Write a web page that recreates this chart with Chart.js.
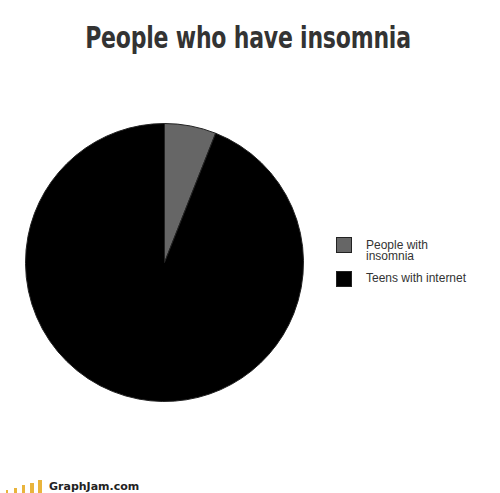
<!DOCTYPE html>
<html lang="en">
  <head>
    <meta charset="UTF-8" />
    <title>People who have insomnia</title>
    <style>
      body { margin: 0; background: #fff; width: 500px; height: 493px; position: relative; overflow: hidden; }
      .title { position: absolute; left: 0; width: 496px; top: 19px; text-align: center;
        font-family: "DejaVu Sans", sans-serif; font-weight: bold;
        font-size: 31px; color: #333; letter-spacing: -0.3px; transform: scaleX(0.71); }
      .pie { position: absolute; left: 25px; top: 123px; width: 279px; height: 279px; }
      .legend { position: absolute; left: 336px; top: 237px; font-family: "Liberation Sans", Arial, sans-serif;
        font-size: 12px; color: #333; line-height: 11px; }
      .item { position: relative; height: 34px; }
      .box { position: absolute; left: 0; top: 0; width: 14px; height: 14px; border: 1px solid #222; }
      .txt { position: absolute; left: 30px; top: 3px; white-space: pre; }
      .footer { position: absolute; left: 0; top: 478px; height: 15px; width: 200px; }
      .bar { position: absolute; bottom: 0; background: #e9b43c; }
      .brand { position: absolute; left: 49px; top: 2px; font-family: "DejaVu Sans", Verdana, sans-serif;
        font-weight: bold; font-size: 11px; color: #222; }
    </style>
  </head>
  <body>
    <div class="title">People who have insomnia</div>
    <div class="pie"><canvas id="myChart"></canvas></div>
    <div class="legend" id="legend"></div>
    <div class="footer" id="footer"><div class="brand">GraphJam.com</div></div>
    <script src="https://cdn.jsdelivr.net/npm/chart.js"></script>
    <script>
      const labels = ["People with\ninsomnia", "Teens with internet"];
      const values = [6, 94];
      const colors = ["#666666", "#000000"];

      const ctx = document.getElementById("myChart").getContext("2d");
      const myChart = new Chart(ctx, {
        type: "pie",
        data: {
          labels: labels,
          datasets: [{
            data: values,
            backgroundColor: colors,
            borderColor: "#222",
            borderWidth: 1,
          }],
        },
        options: {
          responsive: true,
          maintainAspectRatio: true,
          aspectRatio: 1,
          animation: false,
          layout: { padding: 0 },
          plugins: {
            legend: { display: false },
            tooltip: { enabled: false },
          },
        },
      });

      // html legend built from the same arrays
      const legend = document.getElementById("legend");
      labels.forEach((label, i) => {
        const item = document.createElement("div");
        item.className = "item";
        item.innerHTML = '<div class="box" style="background:' + colors[i] + '"></div><div class="txt"></div>';
        item.querySelector(".txt").textContent = label;
        if (label.indexOf("\n") < 0) item.querySelector(".txt").style.top = "2px";
        legend.appendChild(item);
      });

      // little signal bars in the footer logo
      const footer = document.getElementById("footer");
      [[6, 2, 3], [14, 3, 5], [22, 3, 8], [30, 4, 10], [38, 4, 13]].forEach(([x, w, h]) => {
        const b = document.createElement("div");
        b.className = "bar";
        b.style.left = x + "px";
        b.style.width = w + "px";
        b.style.height = h + "px";
        footer.appendChild(b);
      });
    </script>
  </body>
</html>
